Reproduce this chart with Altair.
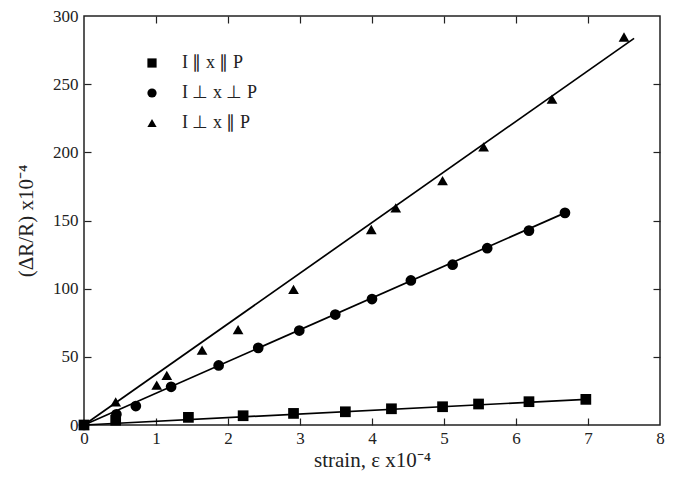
import altair as alt
import pandas as pd

series = ["I ∥ x ∥ P", "I ⊥ x ⊥ P", "I ⊥ x ∥ P"]
shapes = ["square", "circle", "triangle-up"]

sq_x = [0, 0.44, 1.45, 2.21, 2.91, 3.63, 4.27, 4.98, 5.48, 6.18, 6.97]
sq_y = [0, 3.5, 5.6, 6.8, 8.5, 9.7, 11.9, 13.4, 15.4, 17.1, 18.8]
ci_x = [0, 0.45, 0.72, 1.21, 1.87, 2.42, 2.99, 3.49, 4.0, 4.54, 5.12, 5.6, 6.18, 6.68]
ci_y = [0, 7.8, 13.9, 28, 43.7, 56.6, 69.3, 81, 92.4, 106, 117.6, 129.7, 142.6, 155.6]
tr_x = [0, 0.44, 1.01, 1.15, 1.64, 2.14, 2.91, 3.99, 4.33, 4.98, 5.55, 6.5, 7.5]
tr_y = [0, 17, 29.3, 36.4, 54.9, 70, 99.5, 143.4, 159.2, 179.2, 204, 239, 284.6]

# fitted straight lines: start and end points
fit_x0 = [0, 0, 0]
fit_y0 = [0, 0, 0]
fit_x1 = [6.97, 6.68, 7.64]
fit_y1 = [18.8, 155.6, 283.6]

x_labels = [0, 1, 2, 3, 4, 5, 6, 7, 8]
x_ticks = [1, 2, 3, 4, 5, 6, 7]
y_labels = [0, 50, 100, 150, 200, 250, 300]
y_ticks = [50, 100, 150, 200, 250]

rows = []
for s, xs_, ys_ in zip(series, [sq_x, ci_x, tr_x], [sq_y, ci_y, tr_y]):
    for a, b in zip(xs_, ys_):
        rows.append({"series": s, "x": a, "y": b})
pts = pd.DataFrame(rows)

lrows = []
for s, a0, b0, a1, b1 in zip(series, fit_x0, fit_y0, fit_x1, fit_y1):
    lrows.append({"series": s, "x": a0, "y": b0})
    lrows.append({"series": s, "x": a1, "y": b1})
lines = pd.DataFrame(lrows)

W, H = 576, 409
FONT = "'Liberation Serif', 'Times New Roman', Times, serif"
xs = alt.Scale(domain=[0, 8], nice=False, zero=False)
ys = alt.Scale(domain=[0, 300], nice=False, zero=False)

line_layer = alt.Chart(lines).mark_line(color="black", strokeWidth=1.7).encode(
    x=alt.X("x:Q", scale=xs,
            axis=alt.Axis(orient="bottom", values=x_labels, ticks=False, domain=False,
                          grid=False, labelPadding=5, labelFontSize=17, labelFont=FONT,
                          labelColor="#222", title="strain, ε  x10⁻⁴", titleFont=FONT,
                          titleFontSize=21, titleFontWeight="normal", titleColor="#222",
                          titlePadding=3, labelFlush=False)),
    y=alt.Y("y:Q", scale=ys,
            axis=alt.Axis(orient="left", values=y_labels, ticks=False, domain=False,
                          grid=False, labelPadding=6, labelFontSize=17, labelFont=FONT,
                          labelColor="#222", title="(ΔR/R) x10⁻⁴", titleFont=FONT,
                          titleFontSize=21, titleFontWeight="normal", titleColor="#222",
                          titlePadding=16, labelFlush=False)),
    detail="series:N",
)

point_layer = alt.Chart(pts).mark_point(filled=True, color="black", opacity=1, size=115).encode(
    x=alt.X("x:Q", scale=xs,
            axis=alt.Axis(orient="top", offset=-H, values=x_ticks, labels=False,
                          domain=False, grid=False, tickSize=7, tickColor="#222",
                          tickWidth=1.2, title="")),
    y=alt.Y("y:Q", scale=ys,
            axis=alt.Axis(orient="right", offset=-W, values=y_ticks, labels=False,
                          domain=False, grid=False, tickSize=7, tickColor="#222",
                          tickWidth=1.2, title="")),
    shape=alt.Shape("series:N", scale=alt.Scale(domain=series, range=shapes),
                    legend=alt.Legend(orient="none", legendX=59, legendY=38, title="",
                                      labelFont=FONT, labelFontSize=18, labelColor="#222",
                                      symbolFillColor="black", symbolStrokeColor="black",
                                      symbolSize=85, symbolStrokeWidth=0,
                                      labelOffset=21, rowPadding=12, padding=0)),
)

tick_layer = alt.Chart(pts).mark_point(opacity=0).encode(
    x=alt.X("x:Q", scale=xs,
            axis=alt.Axis(orient="bottom", offset=-H, values=x_ticks, labels=False,
                          domain=False, grid=False, tickSize=7, tickColor="#222",
                          tickWidth=1.2, title="")),
    y=alt.Y("y:Q", scale=ys,
            axis=alt.Axis(orient="left", offset=-W, values=y_ticks, labels=False,
                          domain=False, grid=False, tickSize=7, tickColor="#222",
                          tickWidth=1.2, title="")),
)

chart = alt.layer(line_layer, point_layer, tick_layer).properties(
    width=W, height=H,
    autosize=alt.AutoSizeParams(type="none"),
    padding={"left": 76, "top": 8, "right": 9, "bottom": 46},
).configure(
    background="white", font=FONT,
    style={"guide-label": {"font": FONT}, "guide-title": {"font": FONT}},
).configure_view(stroke="#222", strokeWidth=1.5).configure_axis(
    labelFont=FONT, titleFont=FONT
).configure_legend(labelFont=FONT)

chart.save("out.html", embed_options={"renderer": "svg", "actions": False})
